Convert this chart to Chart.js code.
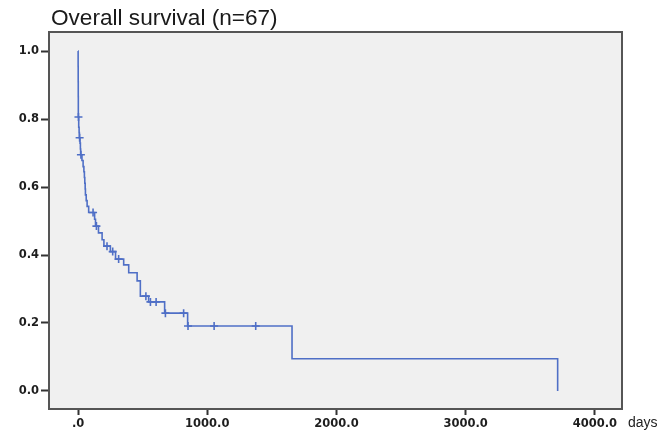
<!DOCTYPE html>
<html>
<head>
<meta charset="utf-8">
<script src="https://cdn.jsdelivr.net/npm/chart.js@4/dist/chart.umd.min.js"></script>
<style>
  html, body { margin: 0; padding: 0; background: #ffffff; }
  #wrap { position: relative; width: 670px; height: 433px; }
  #title { position: absolute; left: 51px; top: 7px; font-family: "Liberation Sans", Arial, sans-serif; font-size: 22.6px; line-height: 1; color: #1a1a1a; white-space: nowrap; }
  #days { position: absolute; left: 628px; top: 415px; font-family: "Liberation Sans", Arial, sans-serif; font-size: 14px; line-height: 1; color: #222; }
  canvas { position: absolute; left: 0; top: 0; }
</style>
</head>
<body>
<div id="wrap">
  <canvas id="c" width="670" height="433"></canvas>
  <div id="title">Overall survival (n=67)</div>
  <div id="days">days</div>
</div>
<script>
// Kaplan-Meier step points: time (days) at which survival drops, and level after the drop
const eventTimes = [0, 0.5, 1, 1.5, 2, 5, 8, 10, 15, 18, 20, 30, 39, 45, 49, 52, 55, 57, 63, 70, 82, 128, 135, 158, 186, 200, 250, 290, 353, 392, 457, 482, 546, 670, 848, 1656, 3712];
const survival   = [1.0, 0.955, 0.91, 0.866, 0.806, 0.776, 0.760, 0.745, 0.729, 0.712, 0.695, 0.678, 0.660, 0.645, 0.628, 0.611, 0.594, 0.577, 0.560, 0.543, 0.525, 0.505, 0.485, 0.465, 0.445, 0.426, 0.410, 0.388, 0.371, 0.348, 0.324, 0.279, 0.262, 0.229, 0.191, 0.095, 0.0];
// Censored observations
const censorTimes = [3, 12, 22, 116, 142, 224, 268, 314, 525, 560, 604, 676, 817, 851, 1053, 1375];
const censorSurv  = [0.806, 0.745, 0.695, 0.525, 0.485, 0.426, 0.410, 0.388, 0.279, 0.262, 0.262, 0.229, 0.229, 0.191, 0.191, 0.191];
// Axis ticks
const xTicks = [0, 1000, 2000, 3000, 4000];
const xTickLabels = [".0", "1000.0", "2000.0", "3000.0", "4000.0"];
const yTicks = [0, 0.2, 0.4, 0.6, 0.8, 1.0];
const yTickLabels = ["0.0", "0.2", "0.4", "0.6", "0.8", "1.0"];

const lineColor = '#4f6fc6';

const plotFrame = {
  id: 'plotFrame',
  beforeDatasetsDraw(chart) {
    const a = chart.chartArea, ctx = chart.ctx;
    ctx.save();
    ctx.fillStyle = '#f0f0f0';
    ctx.fillRect(a.left, a.top, a.right - a.left, a.bottom - a.top);
    ctx.restore();
  },
  afterDraw(chart) {
    const a = chart.chartArea, ctx = chart.ctx;
    ctx.save();
    ctx.strokeStyle = '#555555';
    ctx.lineWidth = 2;
    ctx.strokeRect(a.left, a.top, a.right - a.left, a.bottom - a.top);
    ctx.restore();
  }
};

new Chart(document.getElementById('c'), {
  type: 'scatter',
  data: {
    datasets: [
      {
        label: 'Survival',
        data: eventTimes.map((t, i) => ({ x: t, y: survival[i] })),
        showLine: true,
        stepped: true,
        borderColor: lineColor,
        borderWidth: 1.6,
        pointRadius: 0,
        fill: false
      },
      {
        label: 'Censored',
        data: censorTimes.map((t, i) => ({ x: t, y: censorSurv[i] })),
        showLine: false,
        pointStyle: 'cross',
        pointRadius: 4,
        borderColor: lineColor,
        borderWidth: 1.6,
        backgroundColor: lineColor
      }
    ]
  },
  options: {
    responsive: false,
    animation: false,
    layout: { padding: { top: 32, right: 48, left: 0, bottom: 0 } },
    plugins: { legend: { display: false }, tooltip: { enabled: false }, title: { display: false } },
    scales: {
      x: {
        type: 'linear',
        min: -225,
        max: 4210,
        afterBuildTicks(s) { s.ticks = xTicks.map(v => ({ value: v })); },
        afterFit(s) { s.height = 24; },
        grid: { drawOnChartArea: false, drawTicks: true, tickLength: 6, tickColor: '#333', tickWidth: 2 },
        border: { display: false },
        ticks: {
          padding: 2,
          color: '#1e1e1e',
          font: { family: 'DejaVu Sans', size: 11.5, weight: 'bold' },
          callback(v) { const i = xTicks.indexOf(v); return i >= 0 ? xTickLabels[i] : ''; }
        }
      },
      y: {
        type: 'linear',
        min: -0.053,
        max: 1.056,
        afterBuildTicks(s) { s.ticks = yTicks.map(v => ({ value: v })); },
        afterFit(s) { s.width = 49; },
        grid: { drawOnChartArea: false, drawTicks: true, tickLength: 8, tickColor: '#333', tickWidth: 2 },
        border: { display: false },
        ticks: {
          padding: 2,
          color: '#1e1e1e',
          font: { family: 'DejaVu Sans', size: 11.5, weight: 'bold' },
          callback(v) { const i = yTicks.indexOf(v); return i >= 0 ? yTickLabels[i] : ''; }
        }
      }
    }
  },
  plugins: [plotFrame]
});
</script>
</body>
</html>
